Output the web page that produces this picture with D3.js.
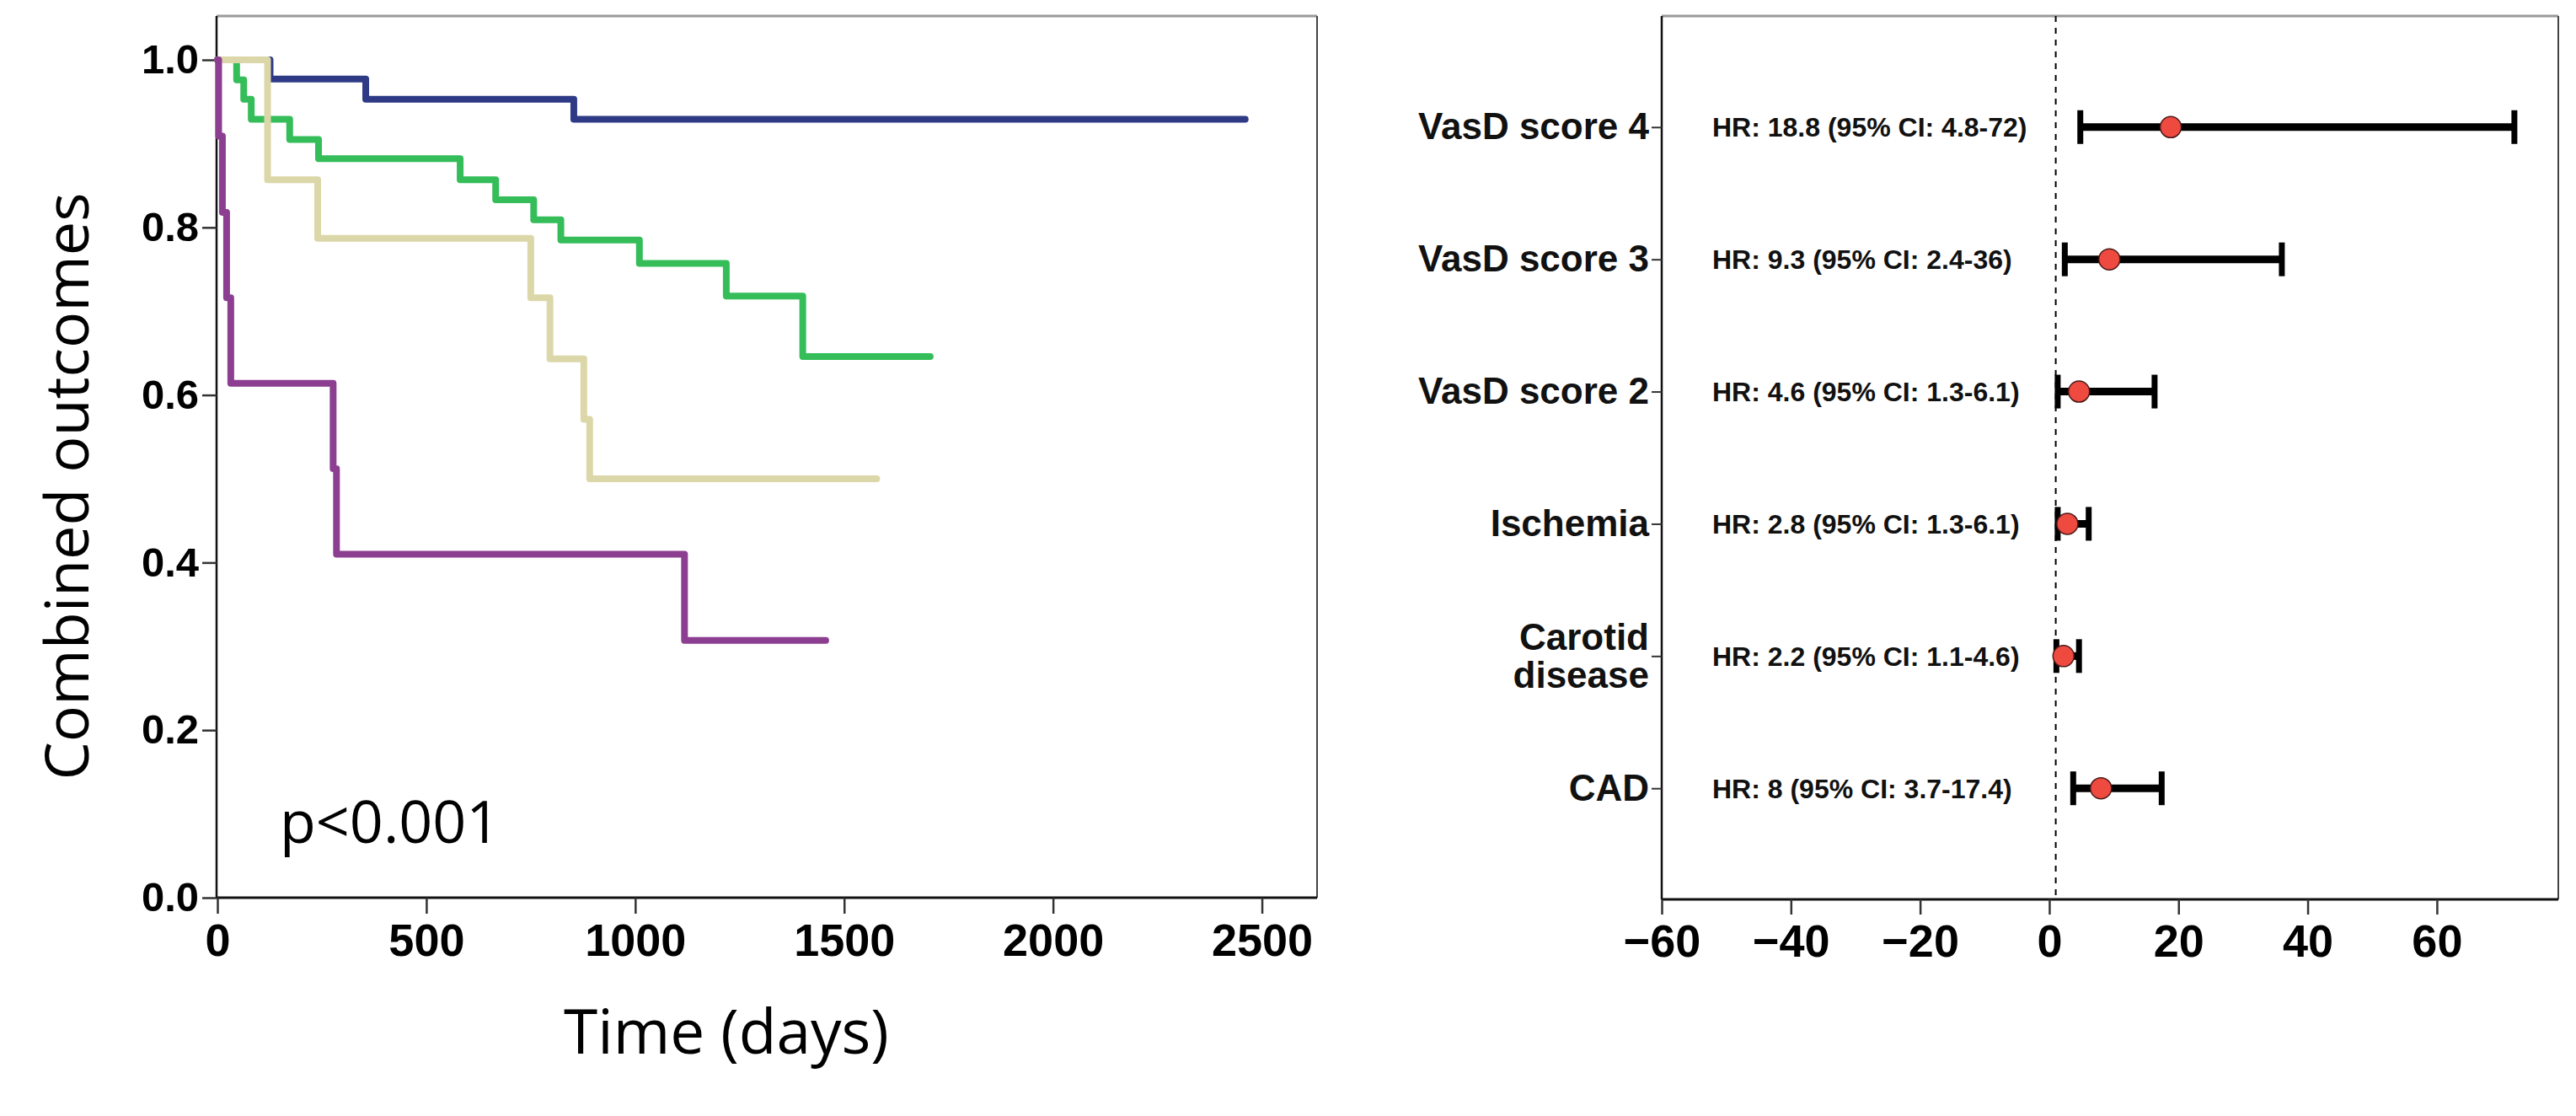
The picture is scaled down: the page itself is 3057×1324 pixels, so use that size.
<!DOCTYPE html>
<html>
<head>
<meta charset="utf-8">
<script src="https://cdn.jsdelivr.net/npm/d3@7"></script>
<style>
  body { margin: 0; background: #fff; }
  svg { display: block; }
  .tick text { fill: #000; }
</style>
</head>
<body>
<script>
const w = 3057;
const h = 1324;

// Kaplan-Meier curves: event times (days) and survival after each event
const blueTimes = [126, 355, 853];
const blueSurv = [0.977, 0.953, 0.929];
const blueEnd = 2460;

const greenTimes = [46, 63, 81, 173, 242, 581, 666, 757, 822, 1010, 1218, 1401];
const greenSurv = [0.976, 0.953, 0.929, 0.905, 0.882, 0.857, 0.833, 0.809, 0.785, 0.757, 0.718, 0.646];
const greenEnd = 1706;

const beigeTimes = [120, 240, 750, 796, 877, 891];
const beigeSurv = [0.857, 0.787, 0.716, 0.643, 0.571, 0.5];
const beigeEnd = 1578;

const purpleTimes = [3, 12, 22, 32, 277, 285, 1118];
const purpleSurv = [0.909, 0.818, 0.716, 0.614, 0.512, 0.41, 0.307];
const purpleEnd = 1456;

const kmXTicks = [0, 500, 1000, 1500, 2000, 2500];
const kmYTicks = [0, 0.2, 0.4, 0.6, 0.8, 1.0];

// forest plot
const factors = ['VasD score 4', 'VasD score 3', 'VasD score 2', 'Ischemia', 'Carotid disease', 'CAD'];
const hr = [18.8, 9.3, 4.6, 2.8, 2.2, 8];
const ciLow = [4.8, 2.4, 1.3, 1.3, 1.1, 3.7];
const ciHigh = [72, 36, 16.3, 6.1, 4.6, 17.4];
const hrLabels = [
  'HR: 18.8 (95% CI: 4.8-72)',
  'HR: 9.3 (95% CI: 2.4-36)',
  'HR: 4.6 (95% CI: 1.3-6.1)',
  'HR: 2.8 (95% CI: 1.3-6.1)',
  'HR: 2.2 (95% CI: 1.1-4.6)',
  'HR: 8 (95% CI: 3.7-17.4)'
];
const forestTicks = [-60, -40, -20, 0, 20, 40, 60];

const svg = d3.select('body').append('svg').attr('width', w).attr('height', h);
svg.append('rect').attr('width', w).attr('height', h).attr('fill', '#fff');

// ---------- left: survival curves ----------
const km = { left: 257, right: 1563, top: 19, bottom: 1065 };

const xScale = d3.scaleLinear().domain([0, 2632]).range([258, km.right]);
const yScale = d3.scaleLinear().domain([0, 1]).range([km.bottom, 71]);

// frame
svg.append('line').attr('x1', km.left).attr('x2', km.right).attr('y1', km.top).attr('y2', km.top)
  .attr('stroke', '#9a9a9a').attr('stroke-width', 3);
svg.append('line').attr('x1', km.right).attr('x2', km.right).attr('y1', km.top).attr('y2', km.bottom)
  .attr('stroke', '#444').attr('stroke-width', 2);

const xAxis = d3.axisBottom(xScale).tickValues(kmXTicks).tickFormat(d3.format('d'))
  .tickSize(19).tickPadding(12).tickSizeOuter(0);
const yAxis = d3.axisLeft(yScale).tickValues(kmYTicks).tickFormat(d3.format('.1f'))
  .tickSize(17).tickPadding(4).tickSizeOuter(0);

const gx = svg.append('g')
  .attr('transform', 'translate(0,' + km.bottom + ')')
  .call(xAxis);
gx.select('.domain').attr('d', 'M' + km.left + ',0H' + km.right).attr('stroke', '#111').attr('stroke-width', 3);
gx.selectAll('.tick line').attr('stroke', '#333').attr('stroke-width', 2.5);
gx.selectAll('.tick text')
  .style('font-family', 'Liberation Sans, Arial, sans-serif')
  .style('font-weight', 'bold').style('font-size', '54px');

const gy = svg.append('g')
  .attr('transform', 'translate(' + km.left + ',0)')
  .call(yAxis);
gy.select('.domain').attr('d', 'M0,' + km.top + 'V' + km.bottom).attr('stroke', '#111').attr('stroke-width', 2.5);
gy.selectAll('.tick line').attr('stroke', '#333').attr('stroke-width', 2.5);
gy.selectAll('.tick text')
  .style('font-family', 'Liberation Sans, Arial, sans-serif')
  .style('font-weight', 'bold').style('font-size', '49px');

const stepLine = d3.line()
  .x(d => xScale(d[0]))
  .y(d => yScale(d[1]))
  .curve(d3.curveStepAfter);

function kmPoints(times, surv, end) {
  const pts = [[0, 1]];
  times.forEach((t, i) => pts.push([t, surv[i]]));
  pts.push([end, surv[surv.length - 1]]);
  return pts;
}

const curves = [
  { pts: kmPoints(blueTimes, blueSurv, blueEnd), color: '#2e3a86' },
  { pts: kmPoints(greenTimes, greenSurv, greenEnd), color: '#35bd5a' },
  { pts: kmPoints(beigeTimes, beigeSurv, beigeEnd), color: '#dcd7a8' },
  { pts: kmPoints(purpleTimes, purpleSurv, purpleEnd), color: '#8c3f90' }
];

svg.append('g').selectAll('path')
  .data(curves)
  .enter()
  .append('path')
  .attr('d', d => stepLine(d.pts))
  .attr('fill', 'none')
  .attr('stroke', d => d.color)
  .attr('stroke-width', 8)
  .attr('stroke-linecap', 'round')
  .attr('stroke-linejoin', 'round');

svg.append('text')
  .attr('x', 332).attr('y', 1000)
  .style('font-family', 'Open Sans, sans-serif').style('font-size', '70px')
  .text('p<0.001');

svg.append('text')
  .attr('transform', 'translate(105,577) rotate(-90)')
  .attr('text-anchor', 'middle')
  .style('font-family', 'Open Sans, sans-serif').style('font-size', '72px')
  .text('Combined outcomes');

svg.append('text')
  .attr('x', 862).attr('y', 1250)
  .attr('text-anchor', 'middle')
  .style('font-family', 'Open Sans, sans-serif').style('font-size', '73px')
  .text('Time (days)');

// ---------- right: forest plot ----------
const fp = { left: 1972, right: 3036, top: 19, bottom: 1067 };

const fx = d3.scaleLinear().domain([-60, 78.8]).range([fp.left, fp.right]);
const fy = d3.scalePoint().domain(factors).range([fp.top, fp.bottom]).padding(0.84);

svg.append('line').attr('x1', fp.left).attr('x2', fp.right).attr('y1', fp.top).attr('y2', fp.top)
  .attr('stroke', '#9a9a9a').attr('stroke-width', 3);
svg.append('line').attr('x1', fp.right).attr('x2', fp.right).attr('y1', fp.top).attr('y2', fp.bottom)
  .attr('stroke', '#444').attr('stroke-width', 2);

const fxAxis = d3.axisBottom(fx).tickValues(forestTicks).tickSize(18).tickPadding(12).tickSizeOuter(0);
const gfx = svg.append('g')
  .attr('transform', 'translate(0,' + fp.bottom + ')')
  .call(fxAxis);
gfx.select('.domain').attr('d', 'M' + fp.left + ',0H' + fp.right).attr('stroke', '#111').attr('stroke-width', 3);
gfx.selectAll('.tick line').attr('stroke', '#333').attr('stroke-width', 2.5);
gfx.selectAll('.tick text')
  .style('font-family', 'Liberation Sans, Arial, sans-serif')
  .style('font-weight', 'bold').style('font-size', '54px');

const fyAxis = d3.axisLeft(fy).tickSize(12).tickPadding(3).tickSizeOuter(0);
const gfy = svg.append('g')
  .attr('transform', 'translate(' + fp.left + ',0)')
  .call(fyAxis);
gfy.select('.domain').attr('d', 'M0,' + fp.top + 'V' + fp.bottom).attr('stroke', '#111').attr('stroke-width', 2.5);
gfy.selectAll('.tick line').attr('stroke', '#333').attr('stroke-width', 2);
gfy.selectAll('.tick text')
  .style('font-family', 'Liberation Sans, Arial, sans-serif')
  .style('font-weight', 'bold').style('font-size', '44px')
  .style('fill', '#111')
  .each(function (d) {
    const words = d.split(' ');
    if (d === 'Carotid disease') {
      const t = d3.select(this).text(null).attr('dy', null);
      t.append('tspan').attr('x', -15).attr('dy', '-0.18em').text(words[0]);
      t.append('tspan').attr('x', -15).attr('dy', '1.02em').text(words[1]);
    }
  });

// reference line at HR = 1
svg.append('line')
  .attr('x1', fx(1)).attr('x2', fx(1))
  .attr('y1', fp.top).attr('y2', fp.bottom)
  .attr('stroke', '#000').attr('stroke-width', 2)
  .attr('stroke-dasharray', '7,7');

const rows = factors.map((f, i) => ({ f, hr: hr[i], lo: ciLow[i], hi: ciHigh[i], label: hrLabels[i] }));

const rowG = svg.append('g').selectAll('g')
  .data(rows)
  .enter()
  .append('g')
  .attr('transform', d => 'translate(0,' + fy(d.f) + ')');

rowG.append('line')
  .attr('x1', d => fx(d.lo)).attr('x2', d => fx(d.hi))
  .attr('stroke', '#000').attr('stroke-width', 9);

rowG.append('line')
  .attr('x1', d => fx(d.lo)).attr('x2', d => fx(d.lo))
  .attr('y1', -20).attr('y2', 20)
  .attr('stroke', '#000').attr('stroke-width', 7);

rowG.append('line')
  .attr('x1', d => fx(d.hi)).attr('x2', d => fx(d.hi))
  .attr('y1', -20).attr('y2', 20)
  .attr('stroke', '#000').attr('stroke-width', 7);

rowG.append('circle')
  .attr('cx', d => fx(d.hr))
  .attr('r', 12.5)
  .attr('fill', '#ee4a40')
  .attr('stroke', '#4a1a1a')
  .attr('stroke-width', 1.5);

rowG.append('text')
  .attr('x', 2032)
  .attr('dy', '0.36em')
  .style('font-family', 'Liberation Sans, Arial, sans-serif')
  .style('font-weight', 'bold').style('font-size', '32px')
  .style('fill', '#111')
  .text(d => d.label);
</script>
</body>
</html>
